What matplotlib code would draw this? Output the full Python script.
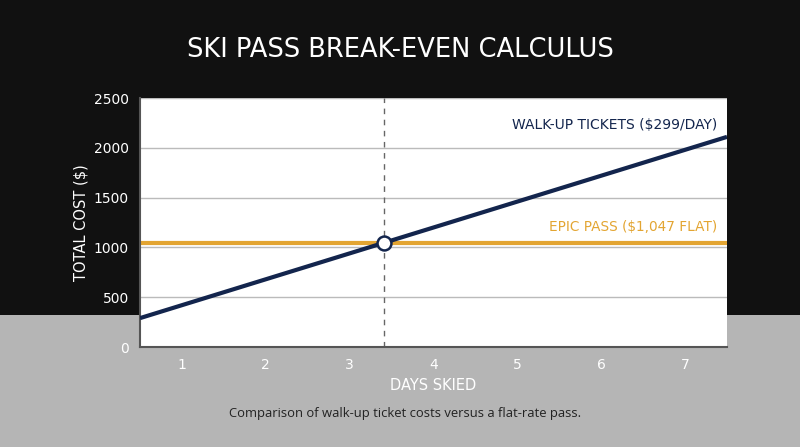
import numpy as np
import matplotlib
matplotlib.use("Agg")
import matplotlib.pyplot as plt
from matplotlib.patches import Rectangle

# Werte
walkup_days = [0.5, 7.5]
walkup_cost = [290, 2110]
epic_cost = 1047
day_ticks = [1, 2, 3, 4, 5, 6, 7]
cost_ticks = [0, 500, 1000, 1500, 2000, 2500]

NAVY = "#13254d"
GOLD = "#e3a532"
BLACK = "#111111"
GREY = "#b5b5b5"

plt.rcParams["font.family"] = ["DejaVu Sans"]

fig = plt.figure(figsize=(8, 4.47), dpi=100, facecolor=GREY)
# schwarzer Kopfbereich
fig.patches.append(Rectangle((0, 0.2953), 1, 0.7047, transform=fig.transFigure,
                             facecolor=BLACK, edgecolor="none", zorder=-10))

ax = fig.add_axes([0.175, 0.2237, 0.73375, 0.557])
ax.set_facecolor("white")

ax.plot(walkup_days, walkup_cost, color=NAVY, lw=3, solid_capstyle="butt", zorder=3)
ax.axhline(epic_cost, color=GOLD, lw=3, zorder=2)

# Break-even Punkt
be_day = np.interp(epic_cost, walkup_cost, walkup_days)
ax.axvline(be_day, color="#666666", lw=1, dashes=(4, 4), zorder=1)
ax.plot([be_day], [epic_cost], "o", ms=10, mfc="white", mec=NAVY, mew=1.8, zorder=4)

ax.text(7.38, 2230, "WALK-UP TICKETS ($299/DAY)", color=NAVY, ha="right",
        va="center", fontsize=10)
ax.text(7.38, 1205, "EPIC PASS ($1,047 FLAT)", color=GOLD, ha="right",
        va="center", fontsize=9.8)

ax.set_xlim(0.5, 7.5)
ax.set_ylim(0, 2500)
ax.set_xticks(day_ticks)
ax.set_yticks(cost_ticks)
ax.grid(axis="y", color="#bbbbbb", lw=1)
ax.set_axisbelow(True)
ax.tick_params(length=0, colors="white", labelsize=10, pad=8)
for s in ["top", "right"]:
    ax.spines[s].set_visible(False)
for s in ["left", "bottom"]:
    ax.spines[s].set_color("#555555")
    ax.spines[s].set_linewidth(1.5)

ax.set_xlabel("DAYS SKIED", color="white", fontsize=10.5, labelpad=4)
ax.set_ylabel("TOTAL COST ($)", color="white", fontsize=10.5, labelpad=4)

fig.text(0.5, 0.888, "SKI PASS BREAK-EVEN CALCULUS", color="white", ha="center",
         va="center", fontsize=18.5)
fig.text(0.506, 0.076, "Comparison of walk-up ticket costs versus a flat-rate pass.",
         color="#222222", ha="center", va="center", fontsize=9.4,
         family=["Open Sans", "DejaVu Sans"])

fig.savefig("out.png", dpi=100, facecolor=fig.get_facecolor())
